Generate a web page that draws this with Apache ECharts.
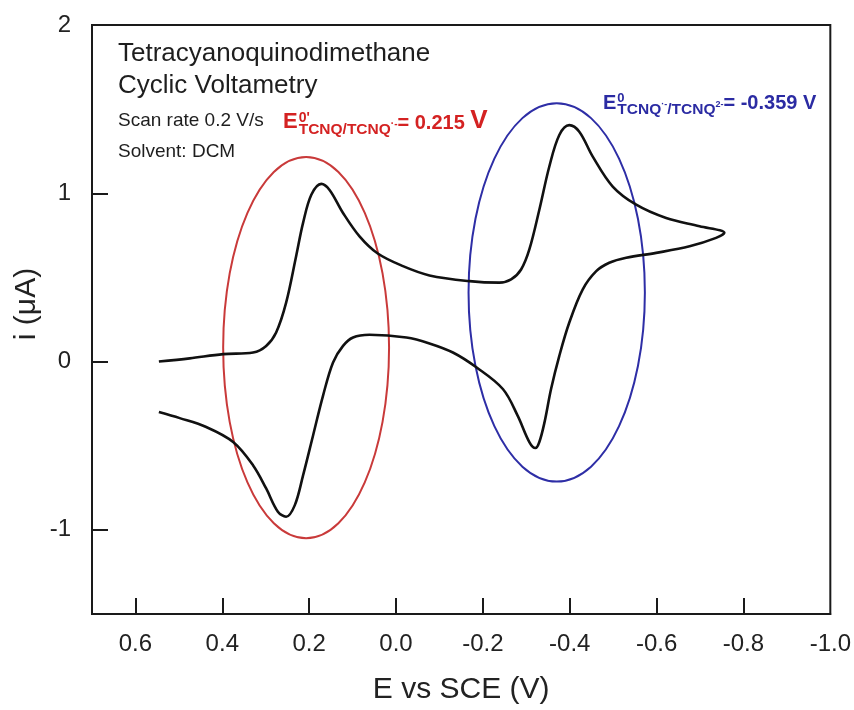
<!DOCTYPE html>
<html>
<head>
<meta charset="utf-8">
<script src="https://cdn.jsdelivr.net/npm/echarts@6/dist/echarts.min.js"></script>
<style>
  html, body { margin: 0; padding: 0; background: #fff; }
  #chart { width: 854px; height: 710px; }
</style>
</head>
<body>
<div id="chart"></div>
<script>
// Cyclic voltammogram of TCNQ in DCM, 0.2 V/s (E in V vs SCE, i in µA)
const forwardE = [0.546, 0.475, 0.398, 0.329, 0.299, 0.276, 0.253, 0.230, 0.214, 0.195, 0.172, 0.153, 0.122, 0.084, 0.042, -0.016, -0.077, -0.169, -0.238, -0.265, -0.288, -0.307, -0.330, -0.353, -0.376, -0.399, -0.422, -0.453, -0.499, -0.553, -0.622, -0.699, -0.756];
const forwardI = [0.000, 0.019, 0.044, 0.054, 0.093, 0.173, 0.350, 0.626, 0.824, 0.991, 1.056, 1.020, 0.883, 0.744, 0.642, 0.567, 0.512, 0.478, 0.469, 0.488, 0.547, 0.666, 0.902, 1.159, 1.346, 1.405, 1.366, 1.218, 1.040, 0.932, 0.853, 0.804, 0.765];
const reverseE = [-0.737, -0.676, -0.599, -0.530, -0.491, -0.461, -0.430, -0.399, -0.376, -0.357, -0.342, -0.330, -0.321, -0.307, -0.280, -0.246, -0.185, -0.131, -0.077, -0.024, 0.061, 0.099, 0.122, 0.145, 0.168, 0.191, 0.214, 0.233, 0.253, 0.272, 0.299, 0.329, 0.375, 0.437, 0.498, 0.546];
const reverseI = [0.735, 0.685, 0.646, 0.617, 0.587, 0.537, 0.429, 0.232, 0.034, -0.163, -0.360, -0.478, -0.514, -0.478, -0.321, -0.163, -0.034, 0.054, 0.108, 0.143, 0.159, 0.143, 0.093, -0.005, -0.202, -0.439, -0.676, -0.853, -0.922, -0.892, -0.754, -0.617, -0.478, -0.389, -0.336, -0.300];

// axis ticks and labels
const xTickValues = [0.6, 0.4, 0.2, 0.0, -0.2, -0.4, -0.6, -0.8];
const xLabelValues = [0.6, 0.4, 0.2, 0.0, -0.2, -0.4, -0.6, -0.8, -1.0];
const yTickValues = [-1, 0, 1];
const yLabelValues = [-1, 0, 1, 2];

// highlighted redox waves: ellipse centre (E, i) and half extents
const waveCentreE = [0.207, -0.370];
const waveCentreI = [0.083, 0.411];
const waveHalfE = [0.191, 0.203];
const waveHalfI = [1.133, 1.124];
const waveColors = ['#c93a3a', '#2e2ea6'];

const FONT = '"Liberation Sans", Arial, Helvetica, sans-serif';
const INK = '#1a1a1a';

const scanData = forwardE.map((e, k) => [e, forwardI[k]])
  .concat(reverseE.map((e, k) => [e, reverseI[k]]));

const chart = echarts.init(document.getElementById('chart'));

chart.setOption({
  animation: false,
  grid: {
    left: 92, right: 23, top: 25, bottom: 92,
    show: true, borderColor: INK, borderWidth: 2, backgroundColor: 'transparent'
  },
  xAxis: {
    type: 'value', inverse: true, min: -1.0, max: 0.7, interval: 0.2,
    axisLine: { show: true, onZero: false, lineStyle: { color: INK, width: 2 } },
    axisTick: { show: true, inside: true, length: 16, customValues: xTickValues, lineStyle: { color: INK, width: 2 } },
    axisLabel: { customValues: xLabelValues, formatter: v => v.toFixed(1), fontSize: 24, color: '#222', margin: 18, fontFamily: FONT },
    splitLine: { show: false },
    name: 'E vs SCE (V)', nameLocation: 'middle', nameGap: 61,
    nameTextStyle: { fontSize: 30, color: '#222', fontFamily: FONT }
  },
  yAxis: {
    type: 'value', min: -1.5, max: 2, interval: 0.5,
    axisLine: { show: true, onZero: false, lineStyle: { color: INK, width: 2 } },
    axisTick: { show: true, inside: true, length: 16, customValues: yTickValues, lineStyle: { color: INK, width: 2 } },
    axisLabel: { customValues: yLabelValues, formatter: v => String(v), fontSize: 24, color: '#222', margin: 21, fontFamily: FONT },
    splitLine: { show: false }
  },
  series: [{
    type: 'line', data: scanData, smooth: 0.35, symbol: 'none', showSymbol: false,
    lineStyle: { color: '#111', width: 2.6 }
  }]
});

// text measurement for laying out sub/superscripted formulas
const measureCtx = document.createElement('canvas').getContext('2d');
function textWidth(str, font) { measureCtx.font = font; return measureCtx.measureText(str).width; }

function formula(x0, baseline, color, parts) {
  const out = [];
  let cursor = x0, prevStart = x0;
  parts.forEach(p => {
    const font = 'bold ' + p.size + 'px ' + FONT;
    const start = p.stack ? prevStart : cursor + (p.gap || 0);
    out.push({
      type: 'text', silent: true,
      x: start, y: baseline - p.rise - 0.35 * p.size,
      style: { text: p.t, font: font, fill: color, textAlign: 'left', textVerticalAlign: 'middle' }
    });
    prevStart = start;
    cursor = Math.max(cursor, start + textWidth(p.t, font));
  });
  return out;
}

function plainText(x, y, str, size) {
  return {
    type: 'text', silent: true, x: x, y: y,
    style: { text: str, font: size + 'px ' + FONT, fill: '#1e1e1e', textAlign: 'left', textVerticalAlign: 'middle' }
  };
}

const graphics = [];

// ellipses around each redox wave, placed in data coordinates
waveCentreE.forEach((e0, k) => {
  const c = chart.convertToPixel({ gridIndex: 0 }, [e0, waveCentreI[k]]);
  const ex = chart.convertToPixel({ gridIndex: 0 }, [e0 + waveHalfE[k], waveCentreI[k]]);
  const ey = chart.convertToPixel({ gridIndex: 0 }, [e0, waveCentreI[k] + waveHalfI[k]]);
  graphics.push({
    type: 'ellipse', silent: true,
    shape: { cx: c[0], cy: c[1], rx: Math.abs(ex[0] - c[0]), ry: Math.abs(ey[1] - c[1]) },
    style: { fill: 'none', stroke: waveColors[k], lineWidth: 2 }
  });
});

graphics.push(
  plainText(118, 54, 'Tetracyanoquinodimethane', 26),
  plainText(118, 86, 'Cyclic Voltametry', 26),
  plainText(118, 121, 'Scan rate 0.2 V/s', 19),
  plainText(118, 152, 'Solvent: DCM', 19),
  {
    type: 'text', silent: true, x: 27, y: 304, rotation: Math.PI / 2,
    style: { text: 'i (\u03bcA)', font: '30px ' + FONT, fill: '#222', textAlign: 'center', textVerticalAlign: 'middle' }
  }
);

graphics.push(...formula(283, 130, '#d42222', [
  { t: 'E', size: 22, rise: 0 },
  { t: "0'", size: 14, rise: 7, gap: 1 },
  { t: 'TCNQ/TCNQ', size: 15.5, rise: -5, stack: true },
  { t: '\u00b7-', size: 10, rise: 2 },
  { t: '= 0.215 ', size: 20, rise: 0 },
  { t: 'V', size: 26, rise: 0 }
]));

graphics.push(...formula(603, 110, '#2b2ba3', [
  { t: 'E', size: 20, rise: 0 },
  { t: '0', size: 13, rise: 7, gap: 1 },
  { t: 'TCNQ', size: 15.5, rise: -5, stack: true },
  { t: '\u00b7-', size: 9, rise: 2 },
  { t: '/TCNQ', size: 15.5, rise: -5 },
  { t: '2-', size: 9, rise: 2 },
  { t: '= -0.359 V', size: 20, rise: 0 }
]));

chart.setOption({ graphic: graphics });
</script>
</body>
</html>
